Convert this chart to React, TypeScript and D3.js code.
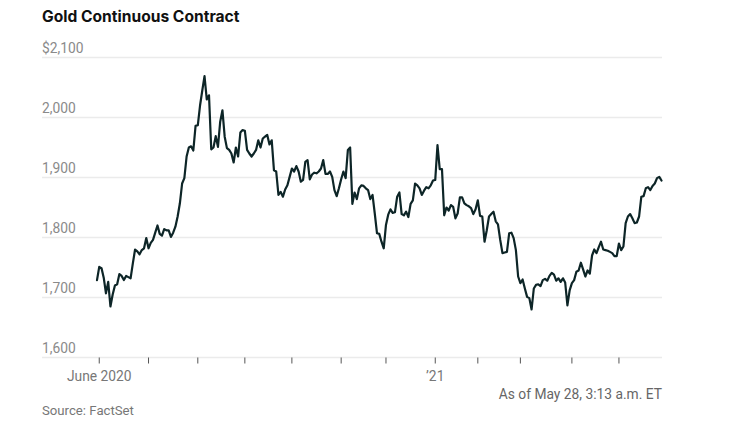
import React from "react";
import * as d3 from "d3";

// Trading-day closing prices, May 29 2020 (index 0) to May 28 2021 (index 252)
const prices: number[] = [
  1729, 1751, 1749, 1733, 1707, 1726, 1685, 1705, 1720, 1722,
  1739, 1736, 1729, 1736, 1734, 1732, 1757, 1780, 1777, 1772,
  1779, 1782, 1799, 1782, 1791, 1796, 1808, 1820, 1806, 1803,
  1814, 1812, 1812, 1801, 1808, 1818, 1835, 1857, 1890, 1899,
  1935, 1950, 1952, 1945, 1986, 1987, 2020, 2045, 2069, 2030,
  2037, 1947, 1950, 1969, 1951, 1993, 2012, 1968, 1949, 1946,
  1940, 1925, 1950, 1935, 1975, 1979, 1978, 1946, 1940, 1935,
  1940, 1946, 1962, 1950, 1965, 1968, 1971, 1955, 1962, 1912,
  1910, 1871, 1876, 1868, 1880, 1887, 1901, 1915, 1910, 1919,
  1910, 1893, 1896, 1926, 1929, 1897, 1905, 1908, 1907, 1910,
  1915, 1929, 1906, 1906, 1910, 1901, 1879, 1869, 1882, 1897,
  1910, 1899, 1946, 1950, 1856, 1875, 1864, 1882, 1887, 1886,
  1882, 1879, 1864, 1871, 1840, 1807, 1806, 1793, 1782, 1821,
  1838, 1847, 1841, 1842, 1868, 1875, 1839, 1837, 1843, 1834,
  1856, 1862, 1890, 1887, 1882, 1871, 1878, 1884, 1882, 1887,
  1895, 1896, 1954, 1914, 1914, 1837, 1850, 1845, 1854, 1851,
  1832, 1840, 1867, 1867, 1857, 1854, 1852, 1849, 1839, 1847,
  1862, 1836, 1835, 1793, 1812, 1835, 1839, 1843, 1827, 1822,
  1796, 1774, 1775, 1776, 1807, 1808, 1799, 1779, 1735, 1724,
  1730, 1715, 1701, 1699, 1680, 1715, 1721, 1722, 1719, 1729,
  1731, 1728, 1736, 1741, 1738, 1728, 1732, 1726, 1732, 1725,
  1687, 1712, 1724, 1729, 1743, 1745, 1758, 1747, 1735, 1745,
  1740, 1770, 1780, 1774, 1784, 1793, 1780, 1779, 1778, 1776,
  1774, 1769, 1769, 1790, 1779, 1785, 1824, 1835, 1839, 1832,
  1824, 1825, 1835, 1868, 1869, 1882, 1884, 1879, 1886, 1890,
  1899, 1901, 1895,
];

// First trading day of each month (index into prices)
const monthTickIdx: number[] = [1, 23, 45, 66, 87, 109, 129, 151, 170, 189, 212, 233];
const monthTickLabels: string[] = ["June 2020", "", "", "", "", "", "", "\u201921", "", "", "", ""];

const yTicks: number[] = [1600, 1700, 1800, 1900, 2000, 2100];
const yTickLabels: string[] = ["1,600", "1,700", "1,800", "1,900", "2,000", "$2,100"];

const title = "Gold Continuous Contract";
const asOf = "As of May 28, 3:13 a.m. ET";
const source = "Source: FactSet";

export default function App() {
  const W = 740;
  const H = 438;
  const left = 42;
  const right = 662;
  const x = d3.scaleLinear().domain([0, prices.length - 1]).range([97, 661.5]);
  const y = d3.scaleLinear().domain([1600, 2100]).range([357.5, 57.5]);
  const line = d3
    .line<number>()
    .x((_, i) => x(i))
    .y((d) => y(d));
  const font = "Roboto, 'Liberation Sans', Arial, sans-serif";
  return (
    <svg
      width={W}
      height={H}
      style={{ position: "absolute", left: 0, top: 0, background: "#fff" }}
    >
      <text x={left} y={22} fontFamily="Inter, Roboto, sans-serif" fontWeight={700} fontSize={15.6} fill="#111">
        {title}
      </text>
      {yTicks.map((t, i) => (
        <g key={t}>
          <line x1={left} x2={right} y1={y(t)} y2={y(t)} stroke="#ebebeb" strokeWidth={1.5} />
          <text x={left} y={y(t) - 5} fontFamily={font} fontSize={13.8} fill="#8a8a8a">
            {yTickLabels[i]}
          </text>
        </g>
      ))}
      {monthTickIdx.map((t, i) => (
        <g key={t}>
          <line x1={x(t)} x2={x(t)} y1={y(1600)} y2={y(1600) + 6} stroke="#555" strokeWidth={1} />
          {monthTickLabels[i] && (
            <text x={x(t)} y={381} textAnchor="middle" fontFamily={font} fontSize={13.8} fill="#777">
              {monthTickLabels[i]}
            </text>
          )}
        </g>
      ))}
      <path
        d={line(prices) || ""}
        fill="none"
        stroke="#0d2527"
        strokeWidth={2.2}
        strokeLinejoin="round"
        strokeLinecap="round"
      />
      <text x={right} y={399} textAnchor="end" fontFamily={font} fontSize={13.8} fill="#666">
        {asOf}
      </text>
      <text x={left} y={415} fontFamily={font} fontSize={13.2} fill="#777">
        {source}
      </text>
    </svg>
  );
}
